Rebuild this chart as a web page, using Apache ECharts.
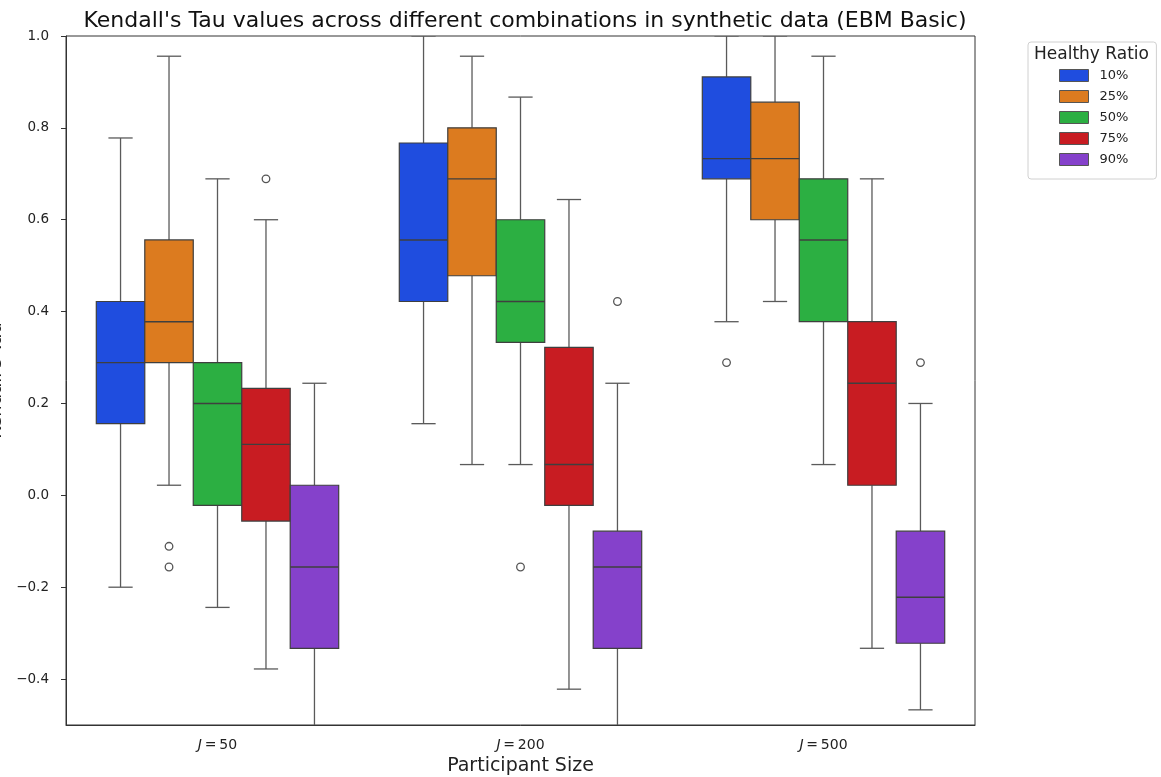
<!DOCTYPE html>
<html>
<head>
<meta charset="utf-8">
<title>Kendall's Tau boxplots</title>
<script src="https://cdn.jsdelivr.net/npm/echarts@6/dist/echarts.min.js"></script>
<style>
  html, body { margin: 0; padding: 0; background: #fff; }
  #chart { width: 1161px; height: 777px; }
</style>
</head>
<body>
<div id="chart"></div>
<script>
// Participant-size groups on the x axis
const sizes = ['50', '200', '500'];
// Healthy-ratio hues, one box per group each
const ratios = ['10%', '25%', '50%', '75%', '90%'];
const colors = ['#1f4ddf', '#dc7b1f', '#2caf42', '#c81c22', '#8541cb'];

// Box statistics per size group: [lower whisker, Q1, median, Q3, upper whisker]
const stats10 = [[-0.200, 0.156, 0.289, 0.422, 0.778], [0.156, 0.422, 0.556, 0.767, 1.000], [0.378, 0.689, 0.733, 0.911, 1.000]];
const stats25 = [[0.022, 0.289, 0.378, 0.556, 0.956], [0.067, 0.478, 0.689, 0.800, 0.956], [0.422, 0.600, 0.733, 0.856, 1.000]];
const stats50 = [[-0.244, -0.022, 0.200, 0.289, 0.689], [0.067, 0.333, 0.422, 0.600, 0.867], [0.067, 0.378, 0.556, 0.689, 0.956]];
const stats75 = [[-0.378, -0.056, 0.111, 0.233, 0.600], [-0.422, -0.022, 0.067, 0.322, 0.644], [-0.333, 0.022, 0.244, 0.378, 0.689]];
const stats90 = [[-0.556, -0.333, -0.156, 0.022, 0.244], [-0.556, -0.333, -0.156, -0.078, 0.244], [-0.467, -0.322, -0.222, -0.078, 0.200]];

// Outlying points per hue: [size group index, value]
const out10 = [[2, 0.289]];
const out25 = [[0, -0.111], [0, -0.156]];
const out50 = [[1, -0.156]];
const out75 = [[0, 0.689]];
const out90 = [[1, 0.422], [2, 0.289]];

// Value-axis tick positions
const yTicks = [-0.4, -0.2, 0.0, 0.2, 0.4, 0.6, 0.8, 1.0];

const allStats = [stats10, stats25, stats50, stats75, stats90];
const allOut = [out10, out25, out50, out75, out90];

const lineColor = '#3f3f3f';
const whiskerColor = '#5a5a5a';

// Horizontal offset of a hue's box inside its group band
function hueOffset(api, hue) {
  const band = api.size([1, 0])[0];
  const w = band * 0.8 / ratios.length;
  return { w: w, dx: (hue - (ratios.length - 1) / 2) * w };
}

function boxRenderer(hue) {
  return function (params, api) {
    const g = api.value(0);
    const o = hueOffset(api, hue);
    const cx = api.coord([g, 0])[0] + o.dx;
    const py = k => api.coord([g, api.value(k)])[1];
    const lo = py(1), q1 = py(2), md = py(3), q3 = py(4), hi = py(5);
    const half = o.w / 2, cap = o.w / 4;
    const ws = { stroke: whiskerColor, lineWidth: 1.3 };
    return {
      type: 'group',
      children: [
        { type: 'line', shape: { x1: cx, y1: q3, x2: cx, y2: hi }, style: ws },
        { type: 'line', shape: { x1: cx, y1: q1, x2: cx, y2: lo }, style: ws },
        { type: 'line', shape: { x1: cx - cap, y1: hi, x2: cx + cap, y2: hi }, style: ws },
        { type: 'line', shape: { x1: cx - cap, y1: lo, x2: cx + cap, y2: lo }, style: ws },
        { type: 'rect', shape: { x: cx - half, y: q3, width: o.w, height: q1 - q3 },
          style: { fill: colors[hue], stroke: lineColor, lineWidth: 1.2 } },
        { type: 'line', shape: { x1: cx - half, y1: md, x2: cx + half, y2: md },
          style: { stroke: lineColor, lineWidth: 1.4 } }
      ]
    };
  };
}

function outlierRenderer(hue) {
  return function (params, api) {
    const g = api.value(0);
    const o = hueOffset(api, hue);
    const p = api.coord([g, api.value(1)]);
    return {
      type: 'circle',
      shape: { cx: p[0] + o.dx, cy: p[1], r: 3.8 },
      style: { fill: 'none', stroke: '#555', lineWidth: 1.3 }
    };
  };
}

const series = [];
ratios.forEach((r, i) => {
  series.push({
    name: r,
    type: 'custom',
    clip: true,
    renderItem: boxRenderer(i),
    itemStyle: { color: colors[i], borderColor: lineColor, borderWidth: 1 },
    encode: { x: 0, y: [1, 2, 3, 4, 5] },
    data: allStats[i].map((s, g) => [g].concat(s)),
    z: 3
  });
});
ratios.forEach((r, i) => {
  series.push({
    type: 'custom',
    clip: true,
    renderItem: outlierRenderer(i),
    encode: { x: 0, y: 1 },
    data: allOut[i],
    z: 4
  });
});

const chart = echarts.init(document.getElementById('chart'), null, { renderer: 'canvas' });
chart.setOption({
  animation: false,
  color: colors,
  textStyle: { fontFamily: 'DejaVu Sans' },
  title: {
    text: "Kendall's Tau values across different combinations in synthetic data (EBM Basic)",
    left: 520,
    top: 5,
    textAlign: 'center',
    textStyle: { fontSize: 22, fontWeight: 'normal', color: '#111', fontFamily: 'DejaVu Sans' }
  },
  legend: {
    data: ratios,
    orient: 'vertical',
    left: 1028,
    top: 42,
    icon: 'rect',
    itemWidth: 29,
    itemHeight: 12,
    itemGap: 8,
    padding: [27, 28, 13, 31],
    backgroundColor: '#fff',
    borderColor: '#d0d0d0',
    borderWidth: 1,
    borderRadius: 3,
    selectedMode: false,
    textStyle: { fontSize: 13, lineHeight: 12, color: '#222', fontFamily: 'DejaVu Sans', padding: [0, 0, 0, 6] },
    itemStyle: { borderColor: '#555', borderWidth: 1 }
  },
  graphic: [{
    type: 'text',
    left: 1034,
    top: 46,
    z: 100,
    style: { text: 'Healthy Ratio', fontSize: 17, fill: '#222', fontFamily: 'DejaVu Sans' }
  }],
  grid: {
    left: 66, right: 186, top: 36, bottom: 52,
    outerBoundsMode: 'none',
    containLabel: false,
    show: true, borderColor: '#333', borderWidth: 1, backgroundColor: '#fff'
  },
  xAxis: {
    type: 'category',
    data: sizes,
    name: 'Participant Size',
    nameLocation: 'middle',
    nameGap: 30,
    nameTextStyle: { fontSize: 19, color: '#222', fontFamily: 'DejaVu Sans' },
    axisLine: { onZero: false, lineStyle: { color: '#333', width: 1 } },
    axisTick: { alignWithLabel: true, length: 5, lineStyle: { color: '#333' } },
    axisLabel: {
      margin: 13,
      formatter: v => '{i|J}\u2009=\u2009' + v,
      rich: {
        i: { fontStyle: 'italic', fontSize: 14, color: '#222', fontFamily: 'DejaVu Sans' }
      },
      fontSize: 14,
      color: '#222'
    },
    splitLine: { show: false }
  },
  yAxis: {
    type: 'value',
    min: -0.5,
    max: 1.0,
    name: "Kendall's Tau",
    nameLocation: 'middle',
    nameGap: 55,
    nameRotate: 90,
    nameTextStyle: { fontSize: 18, color: '#222', fontFamily: 'DejaVu Sans' },
    axisLine: { show: true, lineStyle: { color: '#333', width: 1 } },
    axisTick: { show: true, length: 5, customValues: yTicks, lineStyle: { color: '#333' } },
    axisLabel: {
      margin: 17,
      customValues: yTicks,
      fontSize: 13.5,
      color: '#222',
      formatter: v => (v < 0 ? '\u2212' : '') + Math.abs(v).toFixed(1)
    },
    splitLine: { show: false }
  },
  series: series
});
</script>
</body>
</html>
